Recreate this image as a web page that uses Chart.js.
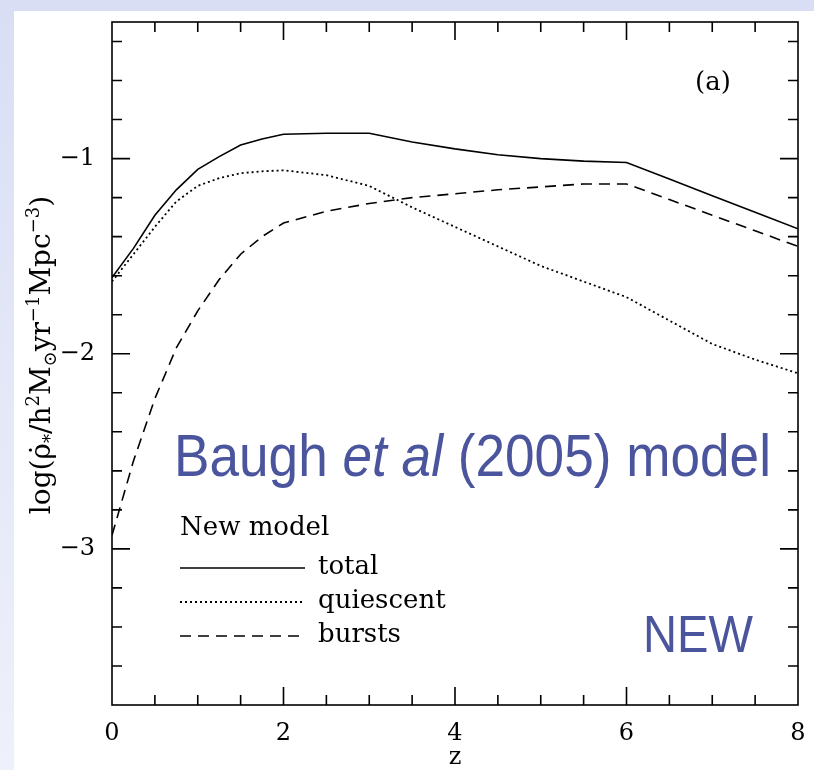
<!DOCTYPE html>
<html>
<head>
<meta charset="utf-8">
<script src="https://cdn.jsdelivr.net/npm/chart.js@4/dist/chart.umd.min.js"></script>
<style>
  html, body { margin: 0; padding: 0; }
  body {
    width: 814px; height: 770px; overflow: hidden; position: relative;
    background: linear-gradient(to bottom, #d9def4, #eef1fa);
  }
  #sheet { position: absolute; left: 14px; top: 11px; width: 800px; height: 759px; background: #fff; }
  #chart { position: absolute; left: 0; top: 0; }
  .note { position: absolute; color: #4b559e; font-family: 'Liberation Sans', Arial, sans-serif;
    line-height: 1; white-space: nowrap; transform-origin: 0 0; }
  #baugh { left: 160px; top: 415px; font-size: 60px; }
  #neu { left: 629px; top: 597px; font-size: 52px; }
</style>
</head>
<body>
<div id="sheet">
  <canvas id="chart" width="800" height="759"></canvas>
  <div class="note" id="baugh" data-w="597">Baugh <i>et al</i> (2005) model</div>
  <div class="note" id="neu" data-w="110">NEW</div>
</div>
<script>
const redshift  = [0, 0.25, 0.5, 0.75, 1, 1.25, 1.5, 1.75, 2, 2.5, 3, 3.5, 4, 4.5, 5, 5.5, 6, 6.5, 7, 7.5, 8];
const total     = [-1.61, -1.46, -1.29, -1.16, -1.055, -0.99, -0.93, -0.90, -0.875, -0.87, -0.87, -0.915, -0.95, -0.98, -1.0, -1.013, -1.02, -1.105, -1.19, -1.275, -1.36];
const quiescent = [-1.63, -1.49, -1.35, -1.22, -1.14, -1.10, -1.075, -1.065, -1.06, -1.085, -1.14, -1.25, -1.35, -1.45, -1.55, -1.63, -1.71, -1.83, -1.95, -2.03, -2.10];
const bursts    = [-2.93, -2.55, -2.23, -1.97, -1.78, -1.62, -1.49, -1.40, -1.33, -1.27, -1.23, -1.20, -1.18, -1.16, -1.145, -1.13, -1.13, -1.21, -1.29, -1.37, -1.45];
const xTicks = [0, 2, 4, 6, 8];
const yTicks = [-1, -2, -3];

const serif = "'DejaVu Serif', 'Liberation Serif', serif";
const pts = arr => redshift.map((z, i) => ({ x: z, y: arr[i] }));
const minus = v => (v < 0 ? '\u2212' + Math.abs(v) : '' + v);

// squeeze the slide captions to the width they have on the slide
document.querySelectorAll('.note').forEach(el => {
  const w = el.getBoundingClientRect().width;
  el.style.transform = 'scaleX(' + (el.dataset.w / w) + ')';
});

// frame with inward ticks, y title, legend and panel tag
const framePlugin = {
  id: 'frame',
  afterDatasetsDraw: chart => {
    const ctx = chart.ctx;
    const a = chart.chartArea;
    const xs = chart.scales['x'];
    const ys = chart.scales['y'];
    ctx.save();
    ctx.strokeStyle = '#000';
    ctx.lineWidth = 1.6;
    ctx.strokeRect(a.left, a.top, a.right - a.left, a.bottom - a.top);
    ctx.beginPath();
    for (let v = 0.5; v < 8; v += 0.5) {
      const px = xs.getPixelForValue(v);
      const len = Math.abs(v % 2) < 0.01 ? 18 : 10;
      ctx.moveTo(px, a.bottom); ctx.lineTo(px, a.bottom - len);
      ctx.moveTo(px, a.top); ctx.lineTo(px, a.top + len);
    }
    for (let k = 2; k <= 18; k++) {
      const v = -0.2 * k;
      const py = ys.getPixelForValue(v);
      const len = (k % 5 === 0) ? 18 : 10;
      ctx.moveTo(a.left, py); ctx.lineTo(a.left + len, py);
      ctx.moveTo(a.right, py); ctx.lineTo(a.right - len, py);
    }
    ctx.stroke();

    // y axis title with sub/superscripts
    const parts = [
      ['log(', 0], ['\u03C1\u0307', 0], ['*', -1], ['/h', 0], ['2', 1], ['M', 0], ['\u2299', -1],
      ['yr', 0], ['\u22121', 1], ['Mpc', 0], ['\u22123', 1], [')', 0]
    ];
    const big = '28px ' + serif, small = '18px ' + serif;
    let w = 0;
    parts.forEach(p => { ctx.font = p[1] ? small : big; w += ctx.measureText(p[0]).width; });
    ctx.translate(26, 344);
    ctx.rotate(-Math.PI / 2);
    ctx.fillStyle = '#000';
    ctx.textBaseline = 'alphabetic';
    let x = -w / 2;
    parts.forEach(p => {
      ctx.font = p[1] ? small : big;
      const dy = p[1] === 1 ? -11 : p[1] === -1 ? 6 : 0;
      ctx.fillText(p[0], x, 10 + dy);
      x += ctx.measureText(p[0]).width;
    });
    ctx.restore();

    // legend
    ctx.save();
    ctx.fillStyle = '#000';
    ctx.strokeStyle = '#000';
    ctx.font = '26px ' + serif;
    ctx.textBaseline = 'alphabetic';
    const lx = a.left + 68;
    ctx.fillText('New model', lx, 524);
    chart.data.datasets.forEach((ds, i) => {
      const y = 557 + i * 34;
      ctx.setLineDash(ds.borderDash || []);
      ctx.lineWidth = ds.borderWidth;
      ctx.beginPath();
      ctx.moveTo(lx, y); ctx.lineTo(lx + 125, y);
      ctx.stroke();
      ctx.setLineDash([]);
      ctx.fillText(ds.label, lx + 138, y + 6);
    });
    ctx.font = '26px ' + serif;
    ctx.fillText('(a)', 681, 79);
    ctx.restore();
  }
};

const noPad = scale => {
  scale.paddingTop = 0; scale.paddingBottom = 0;
  scale.paddingLeft = 0; scale.paddingRight = 0;
};

new Chart(document.getElementById('chart'), {
  type: 'line',
  plugins: [framePlugin],
  data: {
    datasets: [{
      label: 'total',
      data: pts(total),
      borderColor: '#000',
      borderWidth: 1.6
    }, {
      label: 'quiescent',
      data: pts(quiescent),
      borderColor: '#000',
      borderWidth: 1.8,
      borderDash: [2, 3]
    }, {
      label: 'bursts',
      data: pts(bursts),
      borderColor: '#000',
      borderWidth: 1.6,
      borderDash: [11, 7]
    }]
  },
  options: {
    responsive: false,
    animation: false,
    events: [],
    layout: { padding: { left: 0, top: 11, right: 16, bottom: 0 } },
    elements: {
      point: { radius: 0 },
      line: { tension: 0 }
    },
    plugins: {
      legend: { display: false },
      tooltip: { enabled: false }
    },
    scales: {
      x: {
        type: 'linear',
        min: 0,
        max: 8,
        afterBuildTicks: scale => { scale.ticks = xTicks.map(v => ({ value: v })); },
        afterFit: scale => { scale.height = 65; noPad(scale); },
        grid: { display: false, drawTicks: false },
        border: { display: false },
        ticks: {
          color: '#000',
          padding: 14,
          maxRotation: 0,
          font: { family: serif, size: 24 },
          callback: v => minus(v)
        },
        title: {
          display: true,
          text: 'z',
          color: '#000',
          padding: { top: 0, bottom: 0 },
          font: { family: serif, size: 24, lineHeight: 1 }
        }
      },
      y: {
        type: 'linear',
        min: -3.8,
        max: -0.3,
        afterBuildTicks: scale => { scale.ticks = yTicks.map(v => ({ value: v })); },
        afterFit: scale => { scale.width = 98; noPad(scale); },
        grid: { display: false, drawTicks: false },
        border: { display: false },
        ticks: {
          color: '#000',
          padding: 17,
          font: { family: serif, size: 24 },
          callback: v => minus(v)
        }
      }
    }
  }
});
</script>
</body>
</html>
